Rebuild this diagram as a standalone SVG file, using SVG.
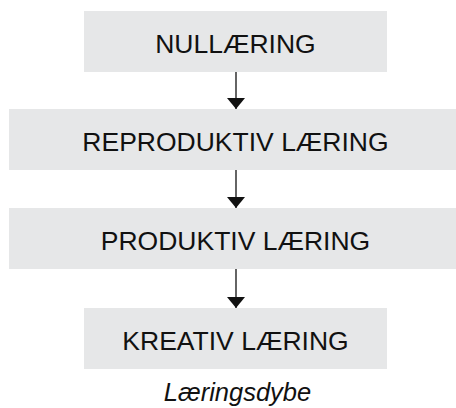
<svg xmlns="http://www.w3.org/2000/svg" width="456" height="408" viewBox="0 0 456 408">
<style>
.box{fill:#e6e7e8;stroke:none}
.t{font-family:"Liberation Sans",Arial,sans-serif;font-size:26.5px;fill:#111;text-anchor:middle}
.lbl{font-family:"Liberation Sans",Arial,sans-serif;font-size:25.5px;font-style:italic;fill:#111;text-anchor:middle}
.c{stroke:#111;stroke-width:1.3;fill:none}
</style>
<defs>
<marker id="ah" markerUnits="userSpaceOnUse" markerWidth="11" markerHeight="18" refX="11" refY="9" orient="auto" viewBox="0 0 11 18">
<path d="M0,0 L11,9 L0,18 Z" fill="#111"/>
</marker>
</defs>
<rect width="456" height="408" fill="#fff"/>
<g id="n1"><rect class="box" x="84" y="11" width="303" height="61"/><text class="t" x="235.5" y="52.5">NULLÆRING</text></g>
<g id="n2"><rect class="box" x="9" y="109" width="447" height="61"/><text class="t" x="235.5" y="150.5">REPRODUKTIV LÆRING</text></g>
<g id="n3"><rect class="box" x="9" y="208" width="447" height="61"/><text class="t" x="235.5" y="249.5">PRODUKTIV LÆRING</text></g>
<g id="n4"><rect class="box" x="84" y="308" width="303" height="61"/><text class="t" x="235.5" y="349.5">KREATIV LÆRING</text></g>
<g id="connectors">
<line class="c" x1="236" y1="72" x2="236" y2="109" marker-end="url(#ah)"/>
<line class="c" x1="236" y1="170" x2="236" y2="208" marker-end="url(#ah)"/>
<line class="c" x1="236" y1="269" x2="236" y2="308" marker-end="url(#ah)"/>
</g>
<text class="lbl" x="237.5" y="400.5">Læringsdybe</text>
</svg>
